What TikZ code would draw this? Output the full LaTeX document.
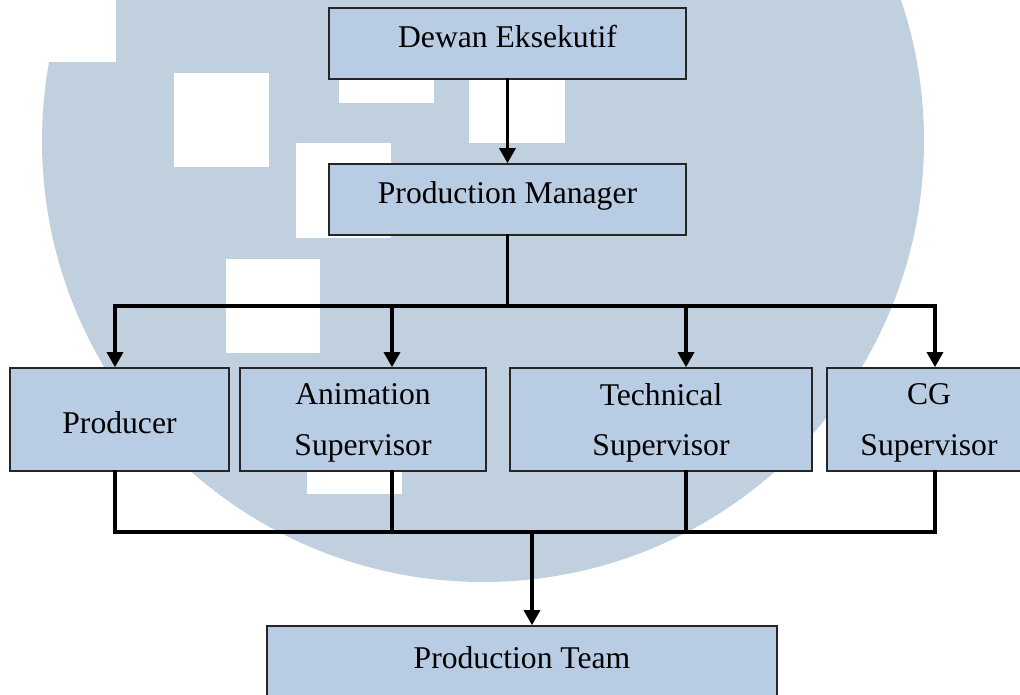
\documentclass[tikz,border=0pt]{standalone}
\usepackage{fontspec}
\setmainfont{Liberation Serif}
\usetikzlibrary{arrows.meta}
\definecolor{boxblue}{RGB}{184,204,228}
\definecolor{markblue}{RGB}{192,208,222}

\begin{document}
\begin{tikzpicture}[x=.025cm, y=-.025cm,
        box/.style={draw=black!85, line width=.4mm, fill=boxblue, inner sep=0pt,
            font=\fontsize{22.5}{35.6}\selectfont, align=center},
        oneline/.style={text height=.525cm, text depth=.3cm},
        twoline/.style={text depth=-.02cm, minimum height=2.575cm},
        link/.style={line width=.8mm, line cap=rect},
        arr/.style={link, -{Triangle[width=4mm, length=3.75mm]}}]
    \clip(0,0) rectangle (1020,695);

    % watermark behind the chart
    \fill[markblue](483,141) circle (441);
    \fill[white](0,0) rectangle (116,62);
        \fill[white](174,73) rectangle (269,167);
        \fill[white](339,8) rectangle (434,103);
        \fill[white](469,48) rectangle (565,143);
        \fill[white](296,143) rectangle (391,238);
        \fill[white](226,259) rectangle (320,353);
        \fill[white](307,399) rectangle (402,494);

    % boxes
    \node[box, oneline, minimum width=8.925cm, minimum height=1.775cm] (dewan) at(507.5, 43.5){Dewan Eksekutif};
    \node[box, oneline, minimum width=8.925cm, minimum height=1.775cm] (manager) at(507.5, 199.5){Production Manager};

    \node[box, text height=.7cm, text depth=0pt, minimum width=5.475cm, minimum height=2.575cm] (producer) at(119.5, 419.5){Producer};
    \node[box, twoline, minimum width=6.15cm] (anim) at(363, 419.5){Animation\\Supervisor};
    \node[box, twoline, minimum width=7.55cm] (tech) at(661, 419.5){Technical\\Supervisor};
    \node[box, twoline, minimum width=5.1cm] (cg) at(929, 419.5){CG\\Supervisor};

    \node[box, oneline, minimum width=12.75cm, minimum height=1.9cm] (team) at(522, 664){Production Team};

    % top part
    \draw[arr](dewan) to (manager);

    \coordinate (upL) at (115, 306);
    \coordinate (upA) at (392, 306);
    \coordinate (upT) at (686, 306);
    \coordinate (upR) at (935, 306);
        \draw[link](manager.south) to (manager.south |- upL);
    \draw[link](upL) to (upR);
        \draw[arr](upL) to (upL |- producer.north);
        \draw[arr](upA) to (upA |- anim.north);
        \draw[arr](upT) to (upT |- tech.north);
        \draw[arr](upR) to (upR |- cg.north);

    % bottom part
    \coordinate (lowL) at (115, 532);
    \coordinate (lowA) at (392, 532);
    \coordinate (lowT) at (686, 532);
    \coordinate (lowR) at (935, 532);
    \coordinate (lowM) at (532, 532);
        \draw[link](lowL |- producer.south) to (lowL);
        \draw[link](lowA |- anim.south) to (lowA);
        \draw[link](lowT |- tech.south) to (lowT);
        \draw[link](lowR |- cg.south) to (lowR);
    \draw[link](lowL) to (lowR);

    \draw[arr](lowM) to (lowM |- team.north);
\end{tikzpicture}
\end{document}
